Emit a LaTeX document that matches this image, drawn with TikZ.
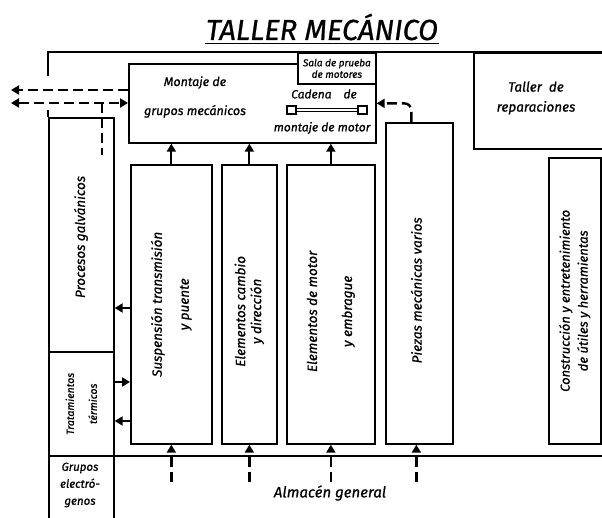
\documentclass[tikz,border=0pt]{standalone}
\usepackage{fontspec}
\setmainfont{Fira Sans}[FakeBold=0.8]
\usetikzlibrary{arrows.meta,calc}

\begin{document}
\begin{tikzpicture}[
  x=1pt, y=-1pt,
  hd/.tip={Triangle[length=8pt,width=9pt]},
  room/.style={draw, line width=1.7pt, anchor=north west, inner sep=0pt},
  lbl/.style={font=\fontsize{12.5}{15}\selectfont\itshape, align=center, inner sep=1pt},
  small/.style={font=\fontsize{10}{11.5}\selectfont\itshape, align=center, inner sep=1pt},
  vlbl/.style={lbl, font=\fontsize{13.5}{16}\selectfont\itshape, rotate=90},
  arr/.style={-hd, line width=1.9pt},
  darr/.style={arr, line width=2.4pt, dash pattern=on 10pt off 5pt}
]
\useasboundingbox (0,0) rectangle (602,518);

\node[font=\fontsize{29}{32}\selectfont\itshape, inner sep=1pt] (title) at (322,27) {TALLER MECÁNICO};
\draw[line width=1.8pt] ([yshift=-2pt]title.south west) -- ([yshift=-2pt]title.south east);

\node[room, minimum width=247pt, minimum height=79pt] (mont) at (128,63) {};
\node[room, fill=white, minimum width=78pt, minimum height=31pt] (sala) at (297,52) {};
\node[room, minimum width=140pt, minimum height=96pt] (tall) at (473,52) {};
\node[room, minimum width=81pt, minimum height=279pt] (susp) at (130,164) {};
\node[room, minimum width=55pt, minimum height=279pt] (camb) at (221,164) {};
\node[room, minimum width=88pt, minimum height=279pt] (motr) at (286,164) {};
\node[room, minimum width=67pt, minimum height=321pt] (piez) at (385,122) {};
\node[room, minimum width=52pt, minimum height=286pt] (cons) at (548,157) {};
\node[room, minimum width=65pt, minimum height=234pt] (galv) at (48,117) {};
\node[room, minimum width=65pt, minimum height=104pt] (trat) at (48,351) {};
\node[room, minimum width=65pt, minimum height=70pt] (grup) at (48,455) {};
\node[room, minimum width=500pt, minimum height=70pt] (alma) at (113,455) {};
\draw[line width=1.7pt] (48,76) |- (610,52);
\draw[line width=1.7pt] (48,110) -- (galv.north west);

% cadena de montaje
\draw[line width=1.3pt] (287,106) rectangle (296,114) (358,106) rectangle (367,114);
\draw[line width=1.3pt] (296,108.5) rectangle (358,111.5);

\node[lbl] (mont-t) at (195,97) {Montaje de\\[14pt]grupos mecánicos};
\node[small] (sala-t) at (sala.center) {Sala de prueba\\de motores};
\node[lbl, font=\fontsize{12}{14}\selectfont\itshape] (cad-t) at (324,94) {Cadena\quad de};
\node[lbl, font=\fontsize{12}{14}\selectfont\itshape] (mm-t) at (322,128) {montaje de motor};
\node[lbl, font=\fontsize{13.5}{16}\selectfont\itshape] (tall-t) at (536,98) {Taller\ \ de\\[4pt]reparaciones};
\node[vlbl] (galv-t) at (81,237) {Procesos galvánicos};
\node[small, font=\fontsize{10.5}{12}\selectfont\itshape, rotate=90] (trat-t) at (trat.center) {Tratamientos\\[11pt]térmicos};
\node[vlbl] (susp-t) at (susp.center) {Suspensión transmisión\\[11pt]y puente};
\node[vlbl] (camb-t) at ([yshift=-7pt]camb.center) {Elementos cambio\\y dirección};
\node[vlbl] (motr-t) at ([yshift=-7pt]motr.center) {Elementos de motor\\[19pt]y embrague};
\node[vlbl] (piez-t) at ([xshift=-3pt,yshift=-7pt]piez.center) {Piezas mecánicas varios};
\node[vlbl, font=\fontsize{13}{15}\selectfont\itshape] (cons-t) at (cons.center) {Construcción y entretenimiento\\[3pt]de útiles y herramientas};
\node[lbl, font=\fontsize{11.5}{17}\selectfont\itshape] (grup-t) at (80,485) {Grupos\\electró-\\genos};
\node[lbl, font=\fontsize{15}{17}\selectfont\itshape] (alma-t) at (330,493) {Almacén general};

\draw[arr] (susp.north) -- (susp.north |- mont.south);
\draw[arr] (camb.north) -- (camb.north |- mont.south);
\draw[arr] (motr.north) -- (motr.north |- mont.south);
\draw[darr, rounded corners=7pt] ([xshift=-8pt]piez.north) |- (mont.east);

\coordinate (out1) at (11,90);
\coordinate (out2) at (11,103);
\coordinate (fork) at (102,103);
\coordinate (forkend) at (102,155);
\draw[darr] (mont.west |- out1) -- (out1);
\draw[darr, hd-hd] (out2) -- (mont.west |- out2);
\draw[darr, -] (fork) -- (forkend);

\coordinate (a1) at (0,308);
\coordinate (a2) at (0,382);
\coordinate (a3) at (0,421);
\draw[arr] (susp.west |- a1) -- (galv.east |- a1);
\draw[arr] (trat.east |- a2) -- (susp.west |- a2);
\draw[arr] (susp.west |- a3) -- (trat.east |- a3);

\coordinate (base) at (0,482);
\draw[darr] (susp.south |- base) -- (susp.south);
\draw[darr] (camb.south |- base) -- (camb.south);
\draw[darr] (motr.south |- base) -- (motr.south);
\draw[darr] ([xshift=-3pt]piez.south |- base) -- ([xshift=-3pt]piez.south);
\end{tikzpicture}
\end{document}
